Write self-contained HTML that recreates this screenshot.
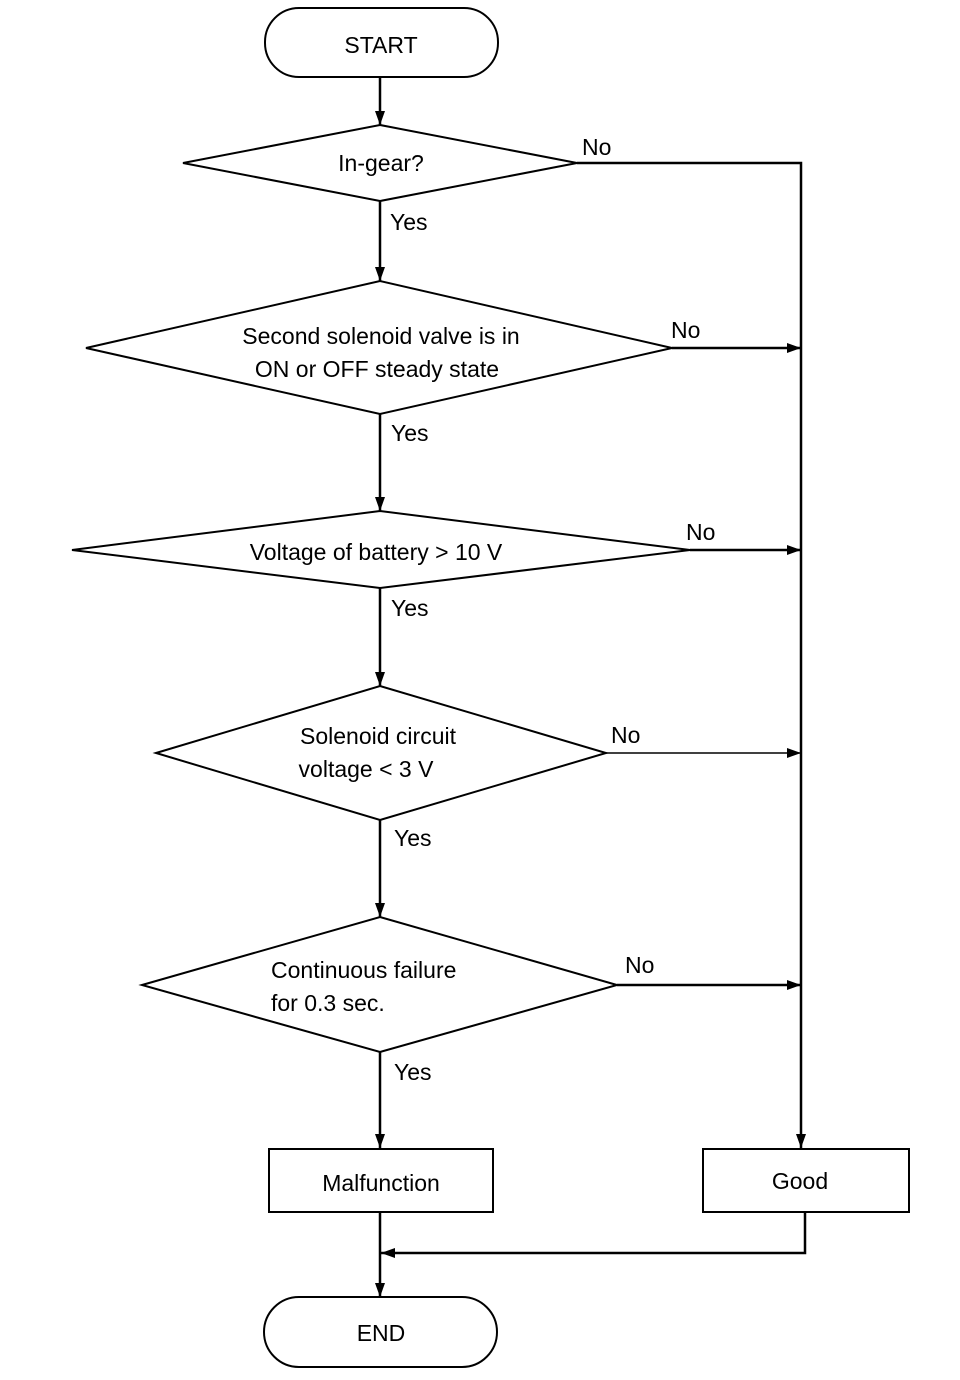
<!DOCTYPE html>
<html><head><meta charset="utf-8"><style>
html,body{margin:0;padding:0;background:#fff;}
svg{display:block;}
text{font-family:"Liberation Sans",Arial,sans-serif;font-size:23px;fill:#000;}
</style></head><body>
<svg width="960" height="1380" viewBox="0 0 960 1380" xmlns="http://www.w3.org/2000/svg">
<defs>
<marker id="a" markerWidth="14" markerHeight="10" refX="14" refY="5" orient="auto" markerUnits="userSpaceOnUse">
<path d="M0,0 L14,5 L0,10 Z" fill="#000"/></marker>
</defs>
<g fill="none" stroke="#000" stroke-width="2">
<rect x="265" y="8" width="233" height="69" rx="34" ry="34"/>
<polygon points="183,163 380,125 577,163 380,201"/>
<polygon points="86,348 380,281 672,348 380,414"/>
<polygon points="72,550 380,511 690,550 380,588"/>
<polygon points="156,753 380,686 606,753 380,820"/>
<polygon points="142,985 380,917 617,985 380,1052"/>
<rect x="269" y="1149" width="224" height="63"/>
<rect x="703" y="1149" width="206" height="63"/>
<rect x="264" y="1297" width="233" height="70" rx="35" ry="35"/>
</g>
<g stroke="#000" stroke-width="2.5" fill="none">
<line x1="380" y1="77" x2="380" y2="125" marker-end="url(#a)"/>
<line x1="380" y1="201" x2="380" y2="281" marker-end="url(#a)"/>
<line x1="380" y1="414" x2="380" y2="511" marker-end="url(#a)"/>
<line x1="380" y1="588" x2="380" y2="686" marker-end="url(#a)"/>
<line x1="380" y1="820" x2="380" y2="917" marker-end="url(#a)"/>
<line x1="380" y1="1052" x2="380" y2="1148" marker-end="url(#a)"/>
<line x1="380" y1="1212" x2="380" y2="1297" marker-end="url(#a)"/>
<polyline points="577,163 801,163 801,1148" marker-end="url(#a)"/>
<line x1="672" y1="348" x2="801" y2="348" marker-end="url(#a)"/>
<line x1="690" y1="550" x2="801" y2="550" marker-end="url(#a)"/>
<line x1="606" y1="753" x2="801" y2="753" marker-end="url(#a)" stroke-width="1.5"/>
<line x1="617" y1="985" x2="801" y2="985" marker-end="url(#a)"/>
<polyline points="805,1212 805,1253 381,1253" marker-end="url(#a)"/>
</g>
<g text-anchor="middle">
<text x="381" y="53">START</text>
<text x="381" y="171">In-gear?</text>
<text x="381" y="344">Second solenoid valve is in</text>
<text x="377" y="377">ON or OFF steady state</text>
<text x="376" y="560">Voltage of battery &gt; 10 V</text>
<text x="378" y="744">Solenoid circuit</text>
<text x="366" y="777">voltage &lt; 3 V</text>
<text x="381" y="1191">Malfunction</text>
<text x="800" y="1189">Good</text>
<text x="381" y="1341">END</text>
</g>
<text x="271" y="978">Continuous failure</text>
<text x="271" y="1011">for 0.3 sec.</text>
<text x="390" y="230">Yes</text>
<text x="391" y="441">Yes</text>
<text x="391" y="616">Yes</text>
<text x="394" y="846">Yes</text>
<text x="394" y="1080">Yes</text>
<text x="582" y="155">No</text>
<text x="671" y="338">No</text>
<text x="686" y="540">No</text>
<text x="611" y="743">No</text>
<text x="625" y="973">No</text>
</svg>
</body></html>
